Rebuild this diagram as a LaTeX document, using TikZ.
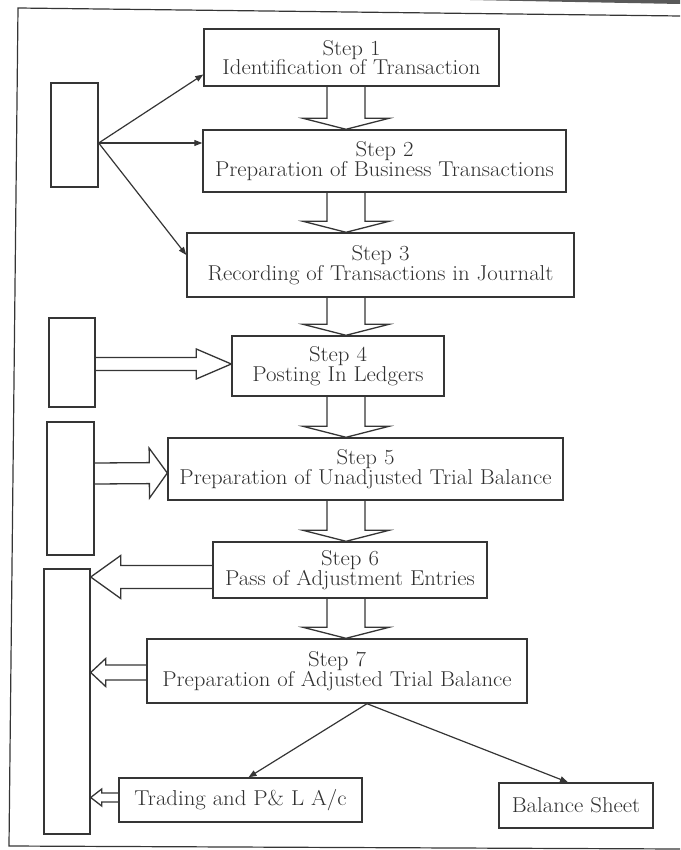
\documentclass[tikz,border=0pt]{standalone}
\usepackage{fontspec}
\setmainfont{Latin Modern Roman}[FakeStretch=1.06]
\usetikzlibrary{calc,arrows.meta}
\definecolor{ink}{HTML}{353535}
\definecolor{txt}{HTML}{303030}

% Outlined (hollow) block arrow from a tail point to a tip point:
% #1 tail, #2 tip, #3 shaft half-width, #4 head half-width, #5 head length
\newcommand\hollowarrow[5]{%
  \coordinate (ha-tail) at (#1);
  \coordinate (ha-tip) at (#2);
  \coordinate (ha-base) at ($(ha-tip)!#5!(ha-tail)$);
  \draw[hollow] ($(ha-tail)!#3!90:(ha-tip)$) -- ($(ha-base)!#3!90:(ha-tip)$)
    -- ($(ha-base)!#4!90:(ha-tip)$) -- (ha-tip)
    -- ($(ha-base)!#4!-90:(ha-tip)$) -- ($(ha-base)!#3!-90:(ha-tip)$)
    -- ($(ha-tail)!#3!-90:(ha-tip)$);
}

\begin{document}
\begin{tikzpicture}[x=1pt, y=-1pt,
  stepbox/.style={draw=ink, line width=1.4pt, inner sep=0pt, align=center,
    text=txt, font=\fontsize{21.5}{19.5}\selectfont},
  sidebox/.style={draw=ink, line width=1.4pt, inner sep=0pt},
  hollow/.style={draw=ink, line width=1.3pt, line join=miter},
  thin/.style={draw=ink, line width=1.2pt, -{Triangle[length=8pt,width=6pt]}},
  frame/.style={draw=ink, line width=1.2pt}]
\useasboundingbox (0,0) rectangle (680,850);

% page frame and the dark edge at the top
\fill[black!65] (470,0) -- (680,0) -- (680,4) -- cycle;
\draw[frame] (680,16) -- (18,8) -- (9,846) -- (680,849);

% the steps
\node[stepbox, minimum width=295pt, minimum height=57pt] (s1) at (351.5,57.5)
  {Step 1\\Identification of Transaction};
\node[stepbox, minimum width=363pt, minimum height=62pt] (s2) at (384.5,161)
  {Step 2\\Preparation of Business Transactions};
\node[stepbox, minimum width=387pt, minimum height=64pt] (s3) at (380.5,265)
  {Step 3\\Recording of Transactions in Journalt};
\node[stepbox, minimum width=212pt, minimum height=60pt] (s4) at (338,366)
  {Step 4\\Posting In Ledgers};
\node[stepbox, minimum width=395pt, minimum height=62pt] (s5) at (365.5,469)
  {Step 5\\Preparation of Unadjusted Trial Balance};
\node[stepbox, minimum width=274pt, minimum height=56pt] (s6) at (350,570)
  {Step 6\\Pass of Adjustment Entries};
\node[stepbox, minimum width=380pt, minimum height=64pt] (s7) at (337,671)
  {Step 7\\Preparation of Adjusted Trial Balance};
\node[stepbox, minimum width=243pt, minimum height=44pt] (tr) at (240.5,800)
  {Trading and P\& L A/c};
\node[stepbox, minimum width=154pt, minimum height=45pt] (bs) at (576,805.5)
  {Balance Sheet};

% empty boxes on the left
\node[sidebox, minimum width=47pt, minimum height=104pt] (L1) at (74.5,135) {};
\node[sidebox, minimum width=46pt, minimum height=89pt] (L2) at (72,362.5) {};
\node[sidebox, minimum width=47pt, minimum height=133pt] (L3) at (70.5,488.5) {};
\node[sidebox, minimum width=46pt, minimum height=265pt] (L4) at (67,701.5) {};

% column of the downward block arrows
\coordinate (col) at (346,0);
\hollowarrow{s1.south -| col}{s2.north -| col}{19pt}{43pt}{11pt}
\hollowarrow{s2.south -| col}{s3.north -| col}{19pt}{43pt}{11pt}
\hollowarrow{s3.south -| col}{s4.north -| col}{19pt}{43pt}{11pt}
\hollowarrow{s4.south -| col}{s5.north -| col}{19pt}{43pt}{11pt}
\hollowarrow{s5.south -| col}{s6.north -| col}{19pt}{43pt}{11pt}
\hollowarrow{s6.south -| col}{s7.north -| col}{19pt}{43pt}{11pt}

% sideways block arrows
\hollowarrow{$(L2.east)+(0,1.5)$}{$(s4.west)+(0,-2)$}{6.5pt}{15pt}{35pt}
\hollowarrow{$(L3.east)+(0,-15)$}{$(s5.west)+(0,4)$}{10.5pt}{25pt}{18pt}
\coordinate (t6) at ($(s6.west)+(0,7)$);
\hollowarrow{t6}{L4.east |- t6}{11.5pt}{21.5pt}{30pt}
\coordinate (t7) at ($(s7.west)+(0,1.5)$);
\hollowarrow{t7}{L4.east |- t7}{7.5pt}{14pt}{15pt}
\coordinate (t8) at ($(tr.west)+(0,-2.5)$);
\hollowarrow{t8}{L4.east |- t8}{4.5pt}{8.5pt}{11pt}

% fan of thin arrows from the first side box
\coordinate (fan) at ($(L1.east)+(0,8)$);
\draw[thin] (fan) -- ($(s1.west)+(0,17)$);
\draw[thin] (fan) -- ($(s2.west)+(0,-18)$);
\draw[thin] (fan) -- ($(s3.west)+(0,-10)$);

% the two final statements
\coordinate (split) at ($(s7.south)+(30,0)$);
\draw[thin] (split) -- ($(tr.north)+(8,0)$);
\draw[thin] (split) -- ($(bs.north)+(-8,0)$);
\end{tikzpicture}
\end{document}
